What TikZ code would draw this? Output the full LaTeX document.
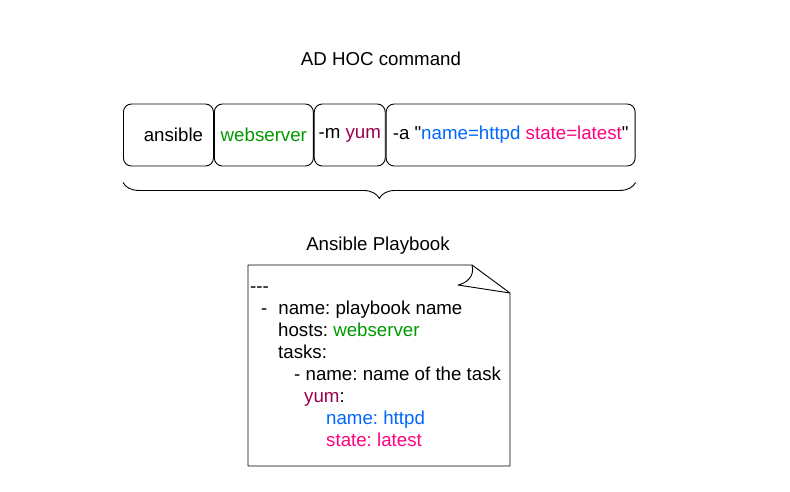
\documentclass[tikz,border=0pt]{standalone}
\usepackage{fontspec}
\setmainfont{Liberation Sans}
\frenchspacing
\usetikzlibrary{decorations.pathreplacing}
\definecolor{hostgreen}{RGB}{0,153,0}
\definecolor{modmaroon}{RGB}{153,0,77}
\definecolor{argblue}{RGB}{0,102,255}
\definecolor{argpink}{RGB}{255,0,128}
\begin{document}
\begin{tikzpicture}[
            x=1pt, y=-1pt,
            every node/.style={
                font=\fontsize{18.7}{22}\selectfont
            },
            part/.style={
                rectangle,
                draw=black,
                line width=0.9pt,
                rounded corners=8pt,
                minimum height=62pt,
                inner sep=0pt,
                anchor=west
            },
            title/.style={
                draw=none,
                inner sep=0pt,
                anchor=base
            },
            line/.style={
                draw=none,
                inner sep=0pt,
                anchor=base west
            },
            brace/.style={
                decorate,
                decoration={brace, mirror, amplitude=16pt},
                line width=0.9pt
            },
            page/.style={line width=0.9pt, line join=round}
        ]
        \useasboundingbox (0,0) rectangle (790,491);

        % Titles
        \node[title] (t1) at (381,65) {AD HOC command};
        \node[title] (t2) at (378,250) {Ansible Playbook};

        % Parts of the ad hoc command
        \node[part, minimum width=90pt] (c1) at (123,135) {\hspace{10pt}ansible};
        \node[part, minimum width=99pt] (c2) at (c1.east) {\textcolor{hostgreen}{webserver}};
        \node[part, minimum width=71pt] (c3) at (c2.east) {-m \textcolor{modmaroon}{yum}};
        \node[part, minimum width=249pt] (c4) at (c3.east) {-a \textquotedbl\textcolor{argblue}{name=httpd} \textcolor{argpink}{state=latest}\textquotedbl};

        % Brace below the command
        \coordinate (bl) at ([yshift=-16pt]c1.south west);
        \coordinate (br) at ([yshift=-16pt]c4.south east);
        \draw[brace] (bl) -- (br);

        % Playbook page with folded corner
        \draw[page] (472,265) -- (248,265) -- (248,466) -- (510,466) -- (510,293) -- cycle;
        \draw[page] (472,265) .. controls (475,276) and (467,283) .. (458,285) -- (510,293);

        % Playbook lines
        \node[line] (l1) at (250,292) {-{}-{}-};
        \node[line] (l2) at (261,314) {-\hspace{11pt}name: playbook name};
        \node[line] (l3) at (278,336) {hosts: \textcolor{hostgreen}{webserver}};
        \node[line] (l4) at (278,358) {tasks:};
        \node[line] (l5) at (294,380) {- name: name of the task};
        \node[line] (l6) at (304,402) {\textcolor{modmaroon}{yum}:};
        \node[line] (l7) at (326,424) {\textcolor{argblue}{name: httpd}};
        \node[line] (l8) at (326,446) {\textcolor{argpink}{state: latest}};

        \end{tikzpicture}
\end{document}
